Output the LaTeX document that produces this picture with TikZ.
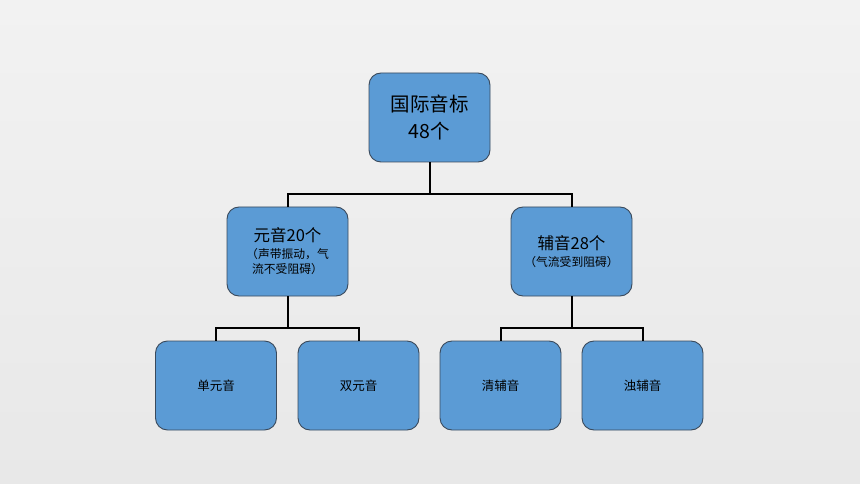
\documentclass[tikz,border=0pt]{standalone}
\usepackage{fontspec}
\setmainfont{Noto Sans CJK SC}
\begin{document}
\begin{tikzpicture}[x=1pt,y=-1pt,
  box/.style={draw=boxedge, line width=0.9pt, fill=boxblue, rounded corners=12pt,
    minimum width=121pt, minimum height=89pt, inner sep=0pt, align=center, text=black},
  conn/.style={draw=black, line width=2pt}]
\definecolor{boxblue}{HTML}{5B9BD5}
\definecolor{boxedge}{HTML}{3A4A5C}
\definecolor{bgtop}{HTML}{F2F2F2}
\definecolor{bgbot}{HTML}{E8E8E8}
\shade[top color=bgtop, bottom color=bgbot] (0,0) rectangle (860,484);
\useasboundingbox (0,0) rectangle (860,484);
\node[box, font=\fontsize{19.5pt}{27pt}\selectfont] (root) at (429.5,117.5) {国际音标\\48个};
\node[box, font=\fontsize{11.8pt}{15.5pt}\selectfont] (vow) at (287.5,251.5) {{\fontsize{16.5pt}{19pt}\selectfont 元音20个}\\[1pt]（声带振动，气\\流不受阻碍）};
\node[box, font=\fontsize{11.8pt}{15.5pt}\selectfont] (con) at (571.5,251.5) {{\fontsize{16.5pt}{19pt}\selectfont 辅音28个}\\[1pt]（气流受到阻碍）};
\node[box, font=\fontsize{12.5pt}{15pt}\selectfont] (b1) at (216,385.5) {单元音};
\node[box, font=\fontsize{12.5pt}{15pt}\selectfont] (b2) at (358.5,385.5) {双元音};
\node[box, font=\fontsize{12.5pt}{15pt}\selectfont] (b3) at (500.5,385.5) {清辅音};
\node[box, font=\fontsize{12.5pt}{15pt}\selectfont] (b4) at (642.5,385.5) {浊辅音};
\coordinate (j1) at (429.5,194);
\coordinate (j2) at (287.5,328);
\coordinate (j3) at (571.5,328);
\draw[conn] (root.south) -- (j1);
\draw[conn] (vow.north) |- (j1) -| (con.north);
\draw[conn] (vow.south) -- (j2);
\draw[conn] (b1.north) |- (j2) -| (b2.north);
\draw[conn] (con.south) -- (j3);
\draw[conn] (b3.north) |- (j3) -| (b4.north);
\end{tikzpicture}
\end{document}
